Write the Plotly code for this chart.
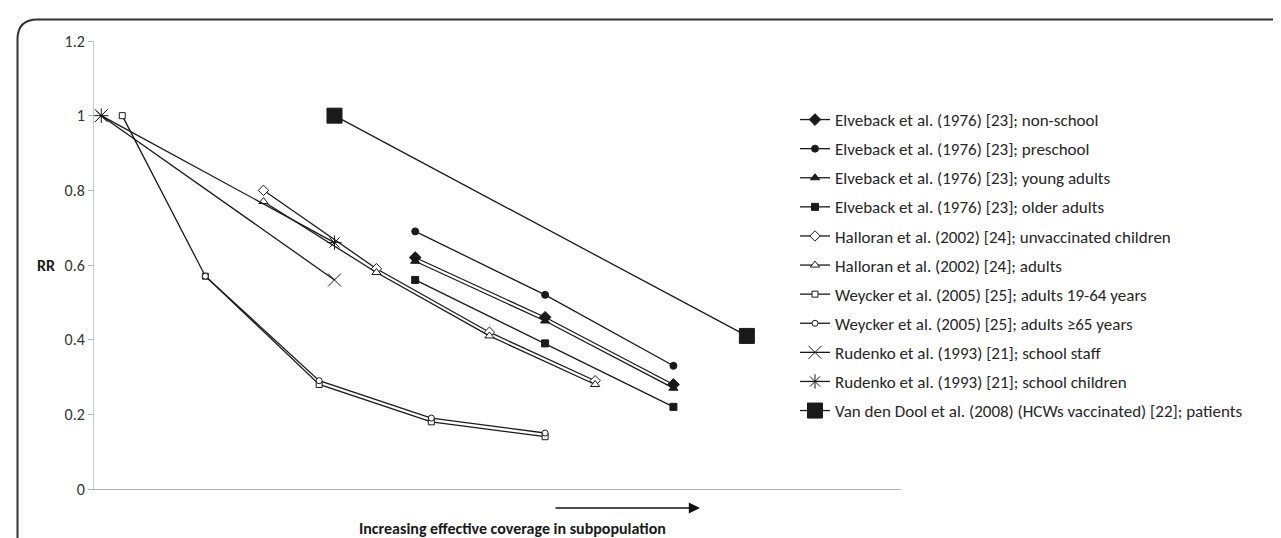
import plotly.graph_objects as go

# ---------------- data ----------------
# hidden x scale: relative position along "increasing effective coverage"
x_elveback = [39.8, 55.9, 71.8]
y_elv_nonschool = [0.62, 0.46, 0.28]
y_elv_preschool = [0.69, 0.52, 0.33]
y_elv_young = [0.61, 0.45, 0.27]
y_elv_older = [0.56, 0.39, 0.22]

x_halloran = [21.0, 35.0, 49.0, 62.1]
y_hal_children = [0.80, 0.59, 0.42, 0.29]
y_hal_adults = [0.77, 0.58, 0.41, 0.28]

x_weycker_1964 = [3.5, 13.8, 27.9, 41.8, 55.9]
y_weycker_1964 = [1.00, 0.57, 0.28, 0.18, 0.14]
x_weycker_65 = [13.8, 27.9, 41.8, 55.9]
y_weycker_65 = [0.57, 0.29, 0.19, 0.15]

x_rudenko = [0.9, 29.8]
y_rud_staff = [1.00, 0.56]
y_rud_children = [1.00, 0.66]

x_vandendool = [29.8, 80.9]
y_vandendool = [1.00, 0.41]

names = [
    "Elveback et al. (1976) [23]; non-school",
    "Elveback et al. (1976) [23]; preschool",
    "Elveback et al. (1976) [23]; young adults",
    "Elveback et al. (1976) [23]; older adults",
    "Halloran et al. (2002) [24]; unvaccinated children",
    "Halloran et al. (2002) [24]; adults",
    "Weycker et al. (2005) [25]; adults 19-64 years",
    "Weycker et al. (2005) [25]; adults \u226565 years",
    "Rudenko et al. (1993) [21]; school staff",
    "Rudenko et al. (1993) [21]; school children",
    "Van den Dool et al. (2008) (HCWs vaccinated) [22]; patients",
]
y_ticks = [0, 0.2, 0.4, 0.6, 0.8, 1.0, 1.2]

# ---------------- figure ----------------
FONT = "Carlito, Lato, sans-serif"
INK = "#1a1a1a"
W, H = 1281, 538
L, R, T, B = 86, 388, 33, 57
PW, PH = W - L - R, H - T - B


def px(xp):
    return (xp - L) / PW


def py(yp):
    return (H - B - yp) / PH


series = [
    (x_elveback, y_elv_nonschool, "diamond", 9, INK),
    (x_elveback, y_elv_preschool, "circle", 7, INK),
    (x_elveback, y_elv_young, "triangle-up", 8, INK),
    (x_elveback, y_elv_older, "square", 7, INK),
    (x_halloran, y_hal_children, "diamond", 8, "white"),
    (x_halloran, y_hal_adults, "triangle-up", 8, "white"),
    (x_weycker_1964, y_weycker_1964, "square", 6, "white"),
    (x_weycker_65, y_weycker_65, "circle", 6, "white"),
    (x_rudenko, y_rud_staff, "x-thin-open", 13, INK),
    (x_rudenko, y_rud_children, "asterisk-open", 12, INK),
    (x_vandendool, y_vandendool, "square", 15, INK),
]

fig = go.Figure()
for i, (xs, ys, sym, size, fill) in enumerate(series):
    fig.add_trace(go.Scatter(
        x=xs, y=ys, mode="lines+markers", name=names[i],
        legendgroup=f"g{i}",
        line=dict(color=INK, width=1.3),
        marker=dict(symbol=sym, size=size, color=fill,
                    line=dict(color=INK, width=1)),
    ))

fig.update_layout(
    width=W, height=H,
    margin=dict(l=L, r=R, t=T, b=B),
    paper_bgcolor="white", plot_bgcolor="white",
    font=dict(family=FONT, color="#262626"),
    showlegend=True,
    legend=dict(
        x=px(787), y=py(94), xanchor="left", yanchor="top",
        font=dict(family=FONT, size=17, color="#262626"),
        tracegroupgap=4, bgcolor="rgba(0,0,0,0)",
    ),
    xaxis=dict(range=[0, 100], showgrid=False, zeroline=False,
               showticklabels=False, ticks="", showline=True,
               linecolor="#b0b0b0", linewidth=1.2),
    yaxis=dict(range=[0, 1.2], tickvals=y_ticks, showgrid=False,
               zeroline=False, showline=True, linecolor="#c8c8c8",
               linewidth=1, ticks="outside", ticklen=5,
               tickcolor="#b0b0b0",
               tickfont=dict(family=FONT, size=16, color="#333333")),
)

# axis titles
fig.add_annotation(x=px(38), y=py(257), xref="paper", yref="paper",
                   xanchor="center", yanchor="middle",
                   text="<b>RR</b>", showarrow=False,
                   font=dict(family=FONT, size=16, color="#1a1a1a"))
fig.add_annotation(x=px(504), y=py(520), xref="paper", yref="paper",
                   xanchor="center", yanchor="middle",
                   text="<b>Increasing effective coverage in subpopulation</b>",
                   showarrow=False,
                   font=dict(family=FONT, size=16, color="#1a1a1a"))
# arrow
fig.add_annotation(x=px(692), y=py(500), xref="paper", yref="paper",
                   ax=-146, ay=0, axref="pixel", ayref="pixel",
                   text="", showarrow=True, arrowhead=2, arrowsize=1.4,
                   arrowwidth=1.6, arrowcolor="#111111")

# rounded outer frame
x0, yt, yb, xr = px(9.5), py(11.5), py(545), px(1290)
rx, ry = 20 / PW, 20 / PH
fig.add_shape(type="path", xref="paper", yref="paper",
              path=f"M {x0},{yb} L {x0},{yt - ry} Q {x0},{yt} {x0 + rx},{yt} L {xr},{yt}",
              line=dict(color="#333333", width=2))

fig.write_html("out.html")
